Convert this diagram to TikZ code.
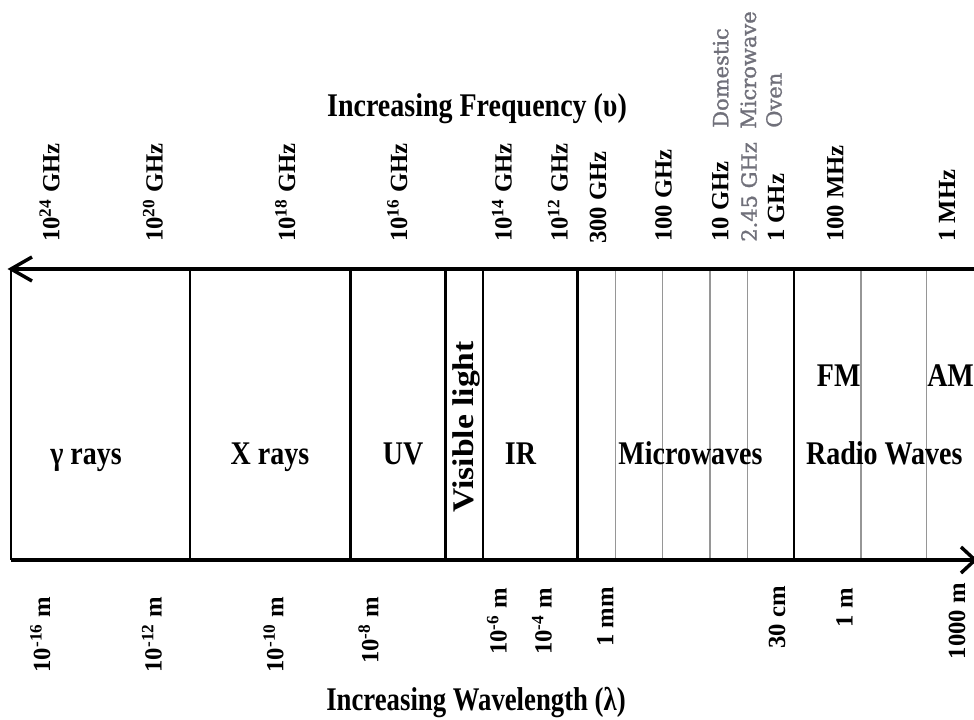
\documentclass[tikz,border=0pt]{standalone}
\usepackage{fontspec}
\setmainfont{Liberation Serif}
\newfontfamily\ovenfont[FakeBold=1.2]{DejaVu Serif}
\usepackage{graphicx}
\definecolor{ovengray}{RGB}{112,112,122}
\definecolor{thingray}{RGB}{150,150,150}
\newcommand{\tallbox}[1]{\scalebox{1}[1.18]{#1}}
\newcommand{\alongbox}[1]{\scalebox{1.12}[1]{#1}}
\tikzset{
  bandlabel/.style={font=\fontsize{21}{25}\selectfont\bfseries, inner sep=0pt, anchor=base},
  tickup/.style={font=\fontsize{18.5}{22}\selectfont\bfseries, rotate=90, anchor=base west, inner sep=0pt},
  tickdown/.style={font=\fontsize{18.5}{22}\selectfont\bfseries, rotate=90, anchor=base east, inner sep=0pt},
  ovenlabel/.style={font=\fontsize{15.75}{20}\selectfont\ovenfont, text=ovengray, rotate=90, anchor=base west, inner sep=0pt},
  axisline/.style={line width=3pt},
  bandline/.style={line width=2.1pt},
  subline/.style={line width=1pt, draw=thingray},
  barb/.style={line width=2.6pt, line join=miter}
}
\begin{document}
\begin{tikzpicture}[x=0.75pt, y=-0.75pt]
\useasboundingbox (0,0) rectangle (974,720);
% axis coordinates
\coordinate (tl) at (11,269);
\coordinate (tr) at (976,269);
\coordinate (bl) at (11,560);
\coordinate (br) at (975,560);
% band boundaries
\foreach \n/\x in {b1/190, b2/350.7, b3/445.7, b4/483, b5/577.7, b6/794}{
  \coordinate (\n t) at (\x,269);
  \coordinate (\n b) at (\x,560);
  \draw[bandline] (\n t) -- (\n b);
}
\foreach \n/\x in {s1/615.3, s2/662.7, s3/710, s4/747.7, s5/861, s6/926.7}{
  \coordinate (\n t) at (\x,270);
  \coordinate (\n b) at (\x,559);
  \draw[subline] (\n t) -- (\n b);
}
\draw[bandline] (tl) -- (bl);
\draw[axisline] (tl) -- (tr);
\draw[axisline] (bl) -- (br);
% arrowheads
\coordinate (la1) at (32,257);
\coordinate (la2) at (32,281);
\draw[barb] (la1) -- (tl) -- (la2);
\coordinate (ra1) at (961,547);
\coordinate (ra2) at (961,573);
\draw[barb] (ra1) -- (br) -- (ra2);
% titles
\node[bandlabel] (freqtitle) at (477,117) {\tallbox{Increasing Frequency (υ)}};
\node[bandlabel] (wavetitle) at (476,710) {\scalebox{0.955}[1.18]{Increasing Wavelength (λ)}};
% band labels
\node[bandlabel] (gamma) at (86,464) {\tallbox{γ rays}};
\node[bandlabel] (xray) at (270,464) {\tallbox{X rays}};
\node[bandlabel] (uv) at (403,464) {\tallbox{UV}};
\node[bandlabel] (ir) at (520.5,464) {\tallbox{IR}};
\node[bandlabel] (micro) at (690.5,464) {\tallbox{Microwaves}};
\node[bandlabel] (radio) at (884.3,464) {\tallbox{Radio Waves}};
\node[bandlabel, anchor=base west] (fm) at (816.7,386.7) {\tallbox{FM}};
\node[bandlabel, anchor=base west] (am) at (927,386.7) {\tallbox{AM}};
\node[font=\fontsize{22.5}{26}\selectfont\bfseries, rotate=90, anchor=base, inner sep=0pt] (visible) at (473,427) {\alongbox{Visible light}};
% frequency ticks
\node[tickup] (f1) at (59.3,242) {10\textsuperscript{24} GHz};
\node[tickup] (f2) at (162.7,242) {10\textsuperscript{20} GHz};
\node[tickup] (f3) at (295,242) {10\textsuperscript{18} GHz};
\node[tickup] (f4) at (407,242) {10\textsuperscript{16} GHz};
\node[tickup] (f5) at (511.7,242) {10\textsuperscript{14} GHz};
\node[tickup] (f6) at (567.7,242) {10\textsuperscript{12} GHz};
\node[tickup] (f7) at (606,244) {300 GHz};
\node[tickup] (f8) at (671.7,242) {100 GHz};
\node[tickup] (f9) at (728.3,242) {10 GHz};
\node[ovenlabel] (f10) at (756.7,242) {2.45 GHz};
\node[tickup] (f11) at (784,242) {1 GHz};
\node[tickup] (f12) at (843.3,242) {100 MHz};
\node[tickup] (f13) at (955,242) {1 MHz};
% oven note
\node[ovenlabel] (oven1) at (728.3,128) {Domestic};
\node[ovenlabel] (oven2) at (756,129) {Microwave};
\node[ovenlabel] (oven3) at (781.7,128) {Oven};
% wavelength ticks
\node[tickdown] (w1) at (50,597) {10\textsuperscript{-16} m};
\node[tickdown] (w2) at (161.7,597) {10\textsuperscript{-12} m};
\node[tickdown] (w3) at (283.3,597) {10\textsuperscript{-10} m};
\node[tickdown] (w4) at (378.3,597) {10\textsuperscript{-8} m};
\node[tickdown] (w5) at (506.7,588) {10\textsuperscript{-6} m};
\node[tickdown] (w6) at (551.7,588) {10\textsuperscript{-4} m};
\node[tickdown] (w7) at (613.3,587) {1 mm};
\node[tickdown] (w8) at (785,586) {30 cm};
\node[tickdown] (w9) at (852.7,588) {1 m};
\node[tickdown] (w10) at (965,583) {1000 m};
\end{tikzpicture}
\end{document}
